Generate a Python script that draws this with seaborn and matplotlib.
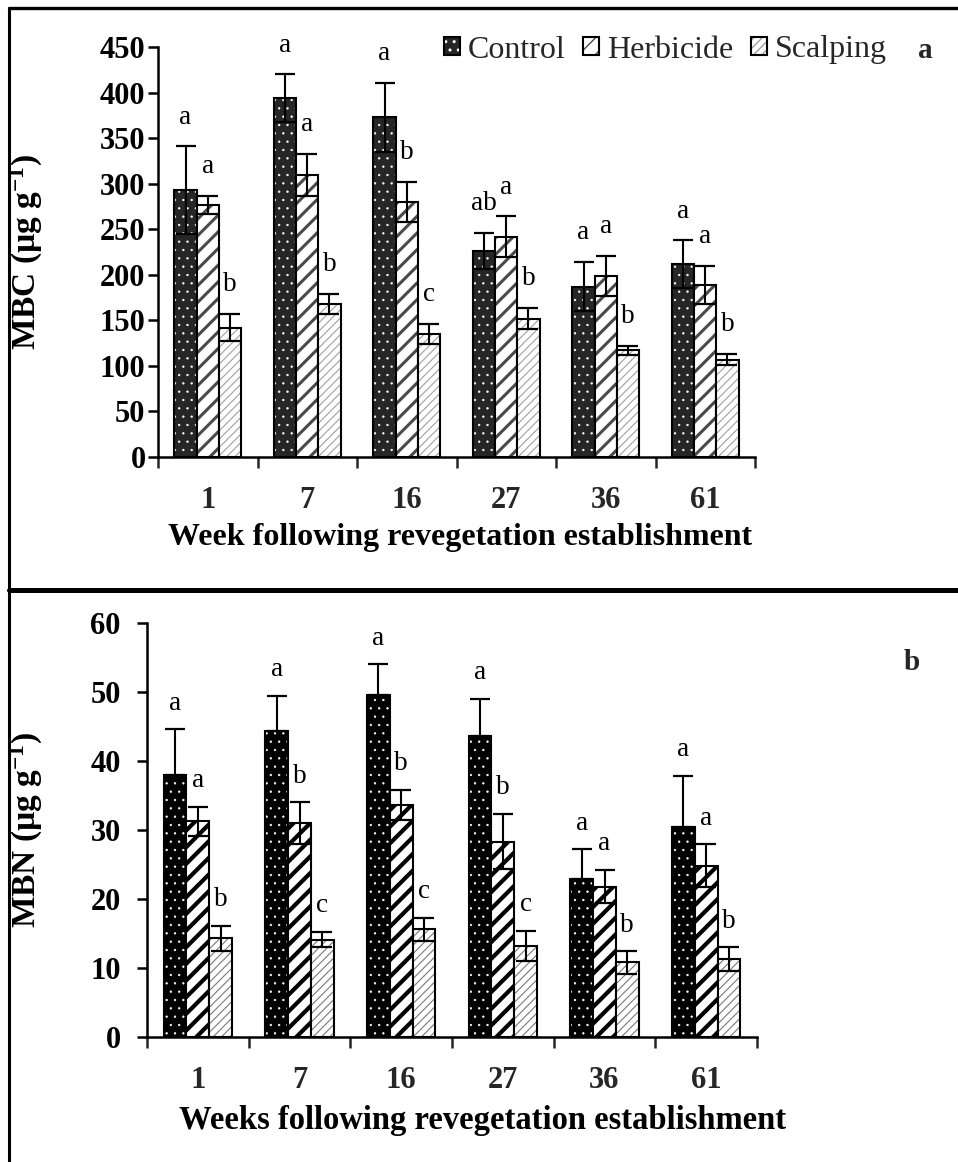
import numpy as np
import pandas as pd
import matplotlib
matplotlib.use("Agg")
import matplotlib.pyplot as plt
import matplotlib.colors as mcolors
from matplotlib.patches import Patch
from matplotlib.lines import Line2D
import seaborn as sns

# ---- data ----
weeks = ["1", "7", "16", "27", "36", "61"]
treatments = ["Control", "Herbicide", "Scalping"]

mbc_control = [293, 394, 373, 226, 187, 212]
mbc_herbicide = [277, 310, 280, 242, 199, 189]
mbc_scalping = [142, 168, 135, 152, 117, 107]
mbc_control_se = [48, 26, 38, 20, 27, 26]
mbc_herbicide_se = [10, 23, 22, 22, 22, 21]
mbc_scalping_se = [15, 11, 11, 12, 5, 6]
mbc_control_letters = ["a", "a", "a", "ab", "a", "a"]
mbc_herbicide_letters = ["a", "a", "b", "a", "a", "a"]
mbc_scalping_letters = ["b", "b", "c", "b", "b", "b"]

mbn_control = [38.0, 44.3, 49.6, 43.6, 22.9, 30.4]
mbn_herbicide = [31.3, 31.0, 33.6, 28.3, 21.8, 24.8]
mbn_scalping = [14.3, 14.1, 15.6, 13.2, 10.8, 11.3]
mbn_control_se = [6.6, 5.1, 4.4, 5.4, 4.3, 7.4]
mbn_herbicide_se = [2.1, 3.0, 2.2, 4.0, 2.4, 3.1]
mbn_scalping_se = [1.8, 1.1, 1.7, 2.2, 1.6, 1.7]
mbn_control_letters = ["a", "a", "a", "a", "a", "a"]
mbn_herbicide_letters = ["a", "b", "b", "b", "a", "a"]
mbn_scalping_letters = ["b", "c", "c", "c", "b", "b"]

sns.set_theme(style="white")
plt.rcParams["font.family"] = ["Liberation Serif", "DejaVu Serif"]
plt.rcParams["mathtext.default"] = "regular"


def long_df(ctrl, herb, scalp):
    rows = []
    for t, vals in zip(treatments, [ctrl, herb, scalp]):
        for w, v in zip(weeks, vals):
            rows.append({"week": w, "treatment": t, "value": v})
    return pd.DataFrame(rows)


def style_patch(p, face, hatch, hcolor, hlw):
    p.set_facecolor(face)
    p.set_hatch(hatch)
    p.set_edgecolor("black")
    p.set_linewidth(1.5)
    if hasattr(p, "set_hatchcolor"):
        p.set_hatchcolor(hcolor)
    else:
        p._hatch_color = mcolors.to_rgba(hcolor)
    if hasattr(p, "set_hatch_linewidth"):
        p.set_hatch_linewidth(hlw)
    else:
        p._hatch_linewidth = hlw


def panel(ax, vals, ses, letters, styles, ymax, ystep, offset, ctrl_up_only):
    df = long_df(*vals)
    sns.barplot(data=df, x="week", y="value", hue="treatment", order=weeks,
                hue_order=treatments, errorbar=None, width=0.67, saturation=1,
                legend=False, ax=ax)
    bars = list(ax.containers)
    for i, cont in enumerate(bars):
        st = styles[treatments[i]]
        for p in cont.patches:
            style_patch(p, *st)
        xs = [p.get_x() + p.get_width() / 2 for p in cont.patches]
        se = np.array(ses[i])
        yerr = [np.zeros_like(se), se] if (i == 0 and ctrl_up_only) else se
        ax.errorbar(xs, vals[i], yerr=yerr, fmt="none", ecolor="black",
                    elinewidth=1.5, capsize=7, capthick=1.6, zorder=4)
        for x, v, s, lab in zip(xs, vals[i], ses[i], letters[i]):
            ax.text(x, v + s + offset, lab, ha="center", va="center",
                    fontsize=19.5, color="black")
    ax.set_ylim(0, ymax)
    ax.set_yticks(np.arange(0, ymax + 1, ystep))
    ax.set_xlim(-0.5, 5.5)
    ax.set_xticks(np.arange(-0.5, 6, 1))
    ax.set_xticklabels([])
    ax.set_xticks(range(6), minor=True)
    ax.set_xticklabels(weeks, minor=True)
    for lab in ax.get_xticklabels(minor=True) + ax.get_yticklabels():
        lab.set_fontweight("bold")
        lab.set_fontsize(22)
    ax.tick_params(axis="x", which="minor", length=0, pad=21)
    ax.tick_params(axis="x", which="major", length=8, width=1.8, direction="out", bottom=True)
    ax.tick_params(axis="y", length=7, width=1.8, direction="out", left=True, colors="black")
    for side in ["top", "right"]:
        ax.spines[side].set_visible(False)
    for side in ["left", "bottom"]:
        ax.spines[side].set_color("black")
        ax.spines[side].set_linewidth(1.8)
    ax.set_xlabel("")
    ax.set_ylabel("")
    ax.set_facecolor("white")


fig = plt.figure(figsize=(9.58, 11.62), dpi=100)
fig.patch.set_facecolor("white")

top_styles = {
    "Control": ("#262626", "..", "white", 0.45),
    "Herbicide": ("white", "//", "#4a4a4a", 2.2),
    "Scalping": ("white", "////", "#a0a0a0", 0.8),
}
bot_styles = {
    "Control": ("black", "..", "white", 0.45),
    "Herbicide": ("white", "//", "black", 3.0),
    "Scalping": ("white", "////", "#7a7a7a", 0.8),
}

ax1 = fig.add_axes([158 / 958, 1 - 457 / 1162, 597 / 958, 410 / 1162])
panel(ax1,
      [mbc_control, mbc_herbicide, mbc_scalping],
      [mbc_control_se, mbc_herbicide_se, mbc_scalping_se],
      [mbc_control_letters, mbc_herbicide_letters, mbc_scalping_letters],
      top_styles, 450, 50, 32, False)
ax1.tick_params(axis="y", pad=2)
ax1.set_ylabel("MBC (µg g$^{-1}$)", fontsize=24, fontweight="bold", color="black")
ax1.yaxis.set_label_coords(-0.19, 0.5)
ax1.set_xlabel("Week following revegetation establishment", fontsize=23,
               fontweight="bold", color="black")
ax1.xaxis.set_label_coords(0.506, -0.16)

ax2 = fig.add_axes([147 / 958, 1 - 1037 / 1162, 610 / 958, 414 / 1162])
panel(ax2,
      [mbn_control, mbn_herbicide, mbn_scalping],
      [mbn_control_se, mbn_herbicide_se, mbn_scalping_se],
      [mbn_control_letters, mbn_herbicide_letters, mbn_scalping_letters],
      bot_styles, 60, 10, 3.8, True)
ax2.tick_params(axis="y", pad=12)
ax2.set_ylabel("MBN (µg g$^{-1}$)", fontsize=24, fontweight="bold", color="black")
ax2.yaxis.set_label_coords(-0.167, 0.5)
ax2.set_xlabel("Weeks following revegetation establishment", fontsize=23.5,
               fontweight="bold", color="black")
ax2.xaxis.set_label_coords(0.55, -0.165)

# legend for panel a
handles = []
for t in treatments:
    h = Patch(label=t)
    style_patch(h, *top_styles[t])
    handles.append(h)
fig.legend(handles=handles, loc="center left", bbox_to_anchor=(444 / 958, 1 - 50 / 1162),
           ncol=3, frameon=False, fontsize=23, handlelength=0.5, handleheight=0.5,
           handletextpad=0.25, columnspacing=0.55, borderpad=0, borderaxespad=0)

fig.text(925 / 958, 1 - 50 / 1162, "a", fontsize=21, fontweight="bold", ha="center", va="center")
fig.text(912 / 958, 1 - 662 / 1162, "b", fontsize=21, fontweight="bold", ha="center", va="center")

# panel frames
x0, ytop, ymid = 9 / 958, 1 - 8 / 1162, 1 - 590 / 1162
fig.add_artist(Line2D([x0, x0], [0, ytop], transform=fig.transFigure, color="black", lw=2.2))
fig.add_artist(Line2D([x0, 1], [ytop, ytop], transform=fig.transFigure, color="black", lw=2.4))
fig.add_artist(Line2D([x0, 1], [ymid, ymid], transform=fig.transFigure, color="black", lw=3.6))

fig.savefig("out.png", dpi=100, facecolor="white")
